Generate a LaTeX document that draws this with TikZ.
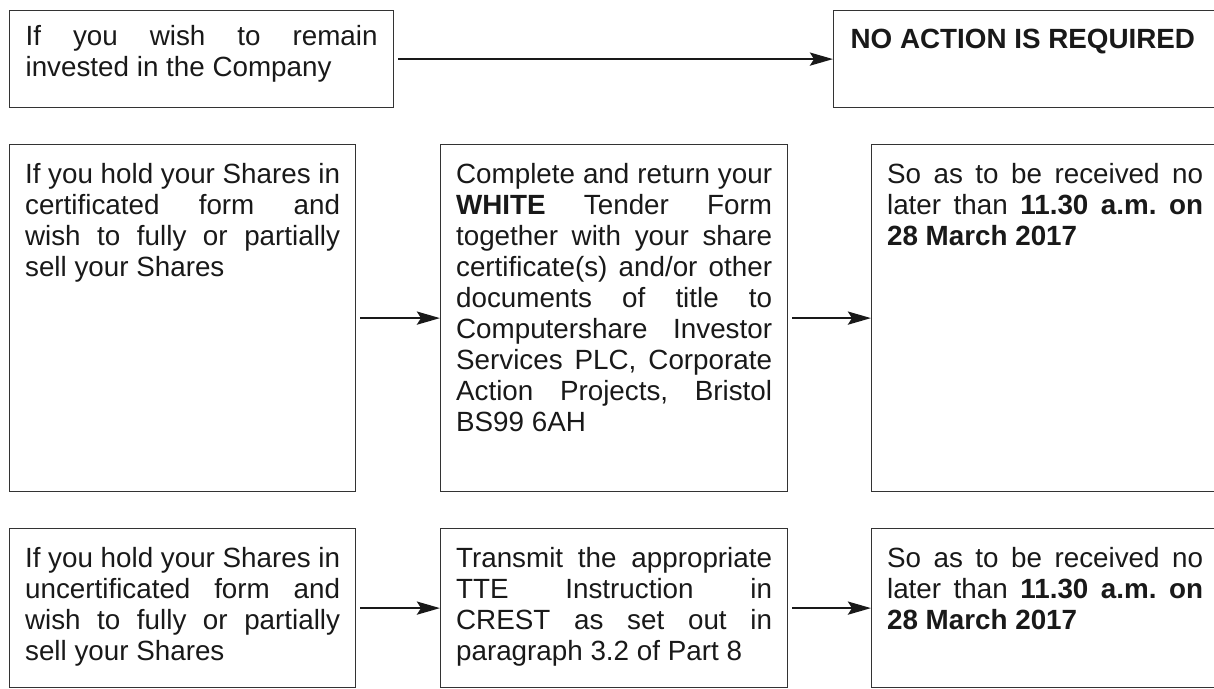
\documentclass[tikz,border=0pt]{standalone}
\usepackage{fontspec}
\setmainfont{Liberation Sans}
\usetikzlibrary{arrows.meta}
\newcommand{\jl}[1]{\hbox to \linewidth{#1}}
\newcommand{\lastl}[1]{\hbox to \linewidth{#1\hfil}}
\frenchspacing
\begin{document}
\begin{tikzpicture}[x=1pt,y=-1pt,
  box/.style={draw=black!80, line width=1.2pt, anchor=north west, inner xsep=15.5pt,
    text=black!90, font=\fontsize{27.8}{31}\selectfont\frenchspacing},
  arr/.style={line width=2.7pt, draw=black!90, -{Stealth[length=23pt,width=13pt,inset=4pt]}, shorten <=4pt}]
\useasboundingbox (0,0) rectangle (1214,688);
\clip (0,0) rectangle (1214,688);
% row 1
\node[box, inner xsep=16pt, inner ysep=15pt] (q1) at (9,10)
  {\parbox[c][67pt][t]{352pt}{\jl{If you wish to remain}\lastl{invested in the Company}}};
\node[box, inner xsep=17pt, inner ysep=18pt] (na) at (833,10)
  {\parbox[c][61pt][t]{420pt}{\lastl{\bfseries NO ACTION IS REQUIRED}}};
% row 2
\node[box, inner ysep=19pt] (c1) at (9,144)
  {\parbox[c][309pt][t]{315pt}{\jl{If you hold your Shares in}\jl{certificated form and}\jl{wish to fully or partially}\lastl{sell your Shares}}};
\node[box, inner ysep=19pt] (c2) at (440,144)
  {\parbox[c][309pt][t]{316pt}{\jl{Complete and return your}\jl{\textbf{WHITE} Tender Form}\jl{together with your share}\jl{certificate(s) and/or other}\jl{documents of title to}\jl{Computershare Investor}\jl{Services PLC, Corporate}\jl{Action Projects, Bristol}\lastl{BS99 6AH}}};
\node[box, inner ysep=19pt] (c3) at (871,144)
  {\parbox[c][309pt][t]{316pt}{\jl{So as to be received no}\jl{later than \textbf{11.30 a.m. on}}\lastl{\textbf{28 March 2017}}}};
% row 3
\node[box, inner ysep=19pt] (u1) at (9,528)
  {\parbox[c][121pt][t]{315pt}{\jl{If you hold your Shares in}\jl{uncertificated form and}\jl{wish to fully or partially}\lastl{sell your Shares}}};
\node[box, inner ysep=19pt] (u2) at (440,528)
  {\parbox[c][121pt][t]{316pt}{\jl{Transmit the appropriate}\jl{TTE Instruction in}\jl{CREST as set out in}\lastl{paragraph 3.2 of Part 8}}};
\node[box, inner ysep=19pt] (u3) at (871,528)
  {\parbox[c][121pt][t]{316pt}{\jl{So as to be received no}\jl{later than \textbf{11.30 a.m. on}}\lastl{\textbf{28 March 2017}}}};
% arrows
\draw[arr] (q1.east) -- (na.west);
\draw[arr] (c1.east) -- (c2.west);
\draw[arr] (c2.east) -- (c3.west);
\draw[arr] (u1.east) -- (u2.west);
\draw[arr] (u2.east) -- (u3.west);
\end{tikzpicture}
\end{document}
